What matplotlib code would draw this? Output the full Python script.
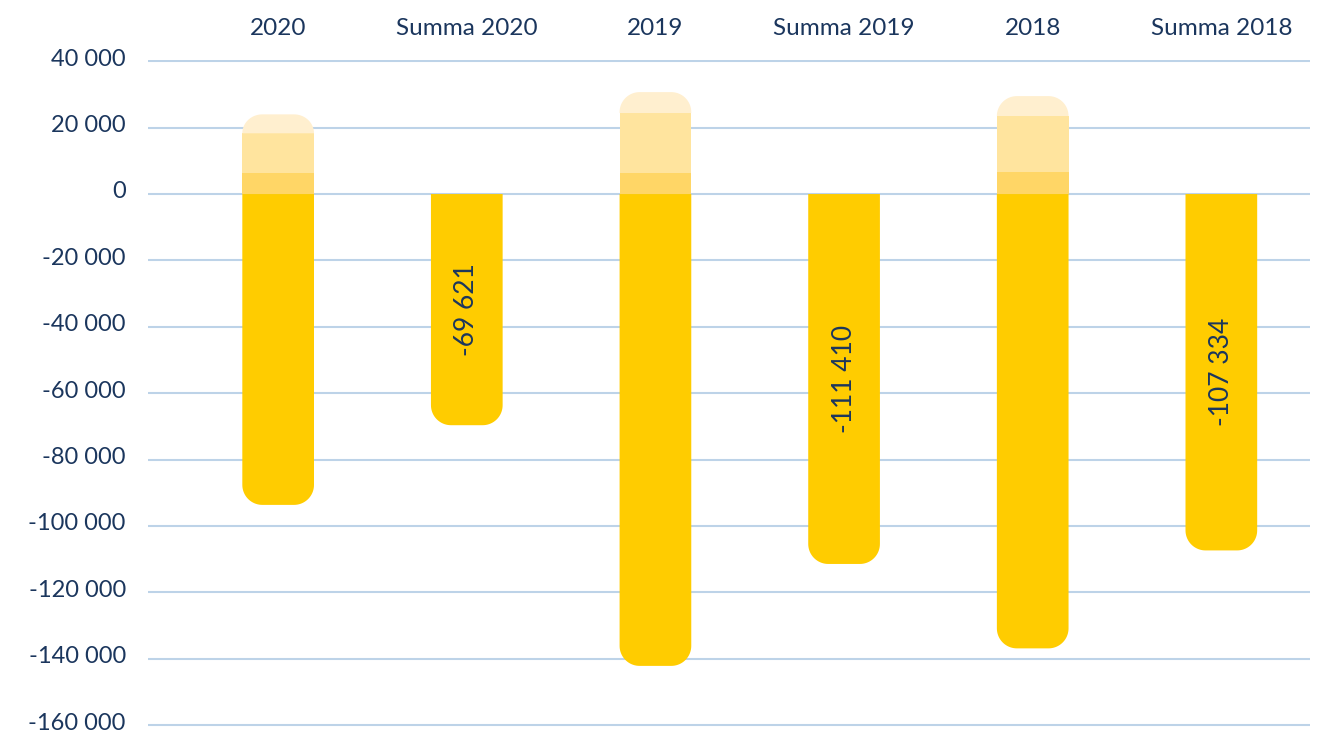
import numpy as np
import matplotlib
matplotlib.use("Agg")
import matplotlib.pyplot as plt
from matplotlib.patches import PathPatch, Rectangle
from matplotlib.path import Path
from matplotlib.transforms import ScaledTranslation

# Data
categories = ["2020", "Summa 2020", "2019", "Summa 2019", "2018", "Summa 2018"]
negatives = [-93621, -69621, -142110, -111410, -136834, -107334]
pos_low = [6400, 0, 6400, 0, 6700, 0]
pos_mid = [11900, 0, 18000, 0, 16800, 0]
pos_top = [5700, 0, 6300, 0, 6000, 0]
summa_labels = {1: "-69 621", 3: "-111 410", 5: "-107 334"}
y_ticks = [40000, 20000, 0, -20000, -40000, -60000, -80000,
           -100000, -120000, -140000, -160000]

# Styles
navy = "#1B365D"
grid_col = "#BDD3E8"
c_neg = "#FFCC00"
c_low = "#FFD666"
c_mid = "#FFE49E"
c_top = "#FFEFCF"
bar_w = 0.38
radius_px = 20

plt.rcParams["font.family"] = ["Lato", "DejaVu Sans"]

fig = plt.figure(figsize=(13.26, 7.31), dpi=100)
ax = fig.add_axes([148 / 1326, 0.001, (1310 - 148) / 1326, 0.9175])
ax.set_xlim(-0.69, 5.47)
ax.set_ylim(-161500, 40500)

# px per data unit, for rounded caps
p0 = ax.transData.transform((0, 0))
p1 = ax.transData.transform((1, 20000))
rx = radius_px / (p1[0] - p0[0])
ry = radius_px * 20000 / (p1[1] - p0[1])


def segment(x, y0, y1, color, rounded=False):
    # y0 = inner edge (flat), y1 = outer edge (rounded if asked)
    lo, hi = min(y0, y1), max(y0, y1)
    if not rounded:
        ax.add_patch(Rectangle((x - bar_w / 2, lo), bar_w, hi - lo,
                               fc=color, ec="none", zorder=2))
        return
    left, right = x - bar_w / 2, x + bar_w / 2
    sgn = 1 if y1 > y0 else -1
    r_y = min(ry, abs(y1 - y0))
    cy = y1 - sgn * r_y
    verts = [(left, y0), (left, cy)]
    for a in np.linspace(np.pi, np.pi / 2, 20):
        verts.append((left + rx + rx * np.cos(a), cy + sgn * r_y * np.sin(a)))
    for a in np.linspace(np.pi / 2, 0, 20):
        verts.append((right - rx + rx * np.cos(a), cy + sgn * r_y * np.sin(a)))
    verts.append((right, y0))
    verts.append((left, y0))
    codes = [Path.MOVETO] + [Path.LINETO] * (len(verts) - 2) + [Path.CLOSEPOLY]
    ax.add_patch(PathPatch(Path(verts, codes), fc=color, ec="none", zorder=2))


for i, cat in enumerate(categories):
    segment(i, 0, negatives[i], c_neg, rounded=True)
    if pos_low[i] > 0:
        b1 = pos_low[i]
        b2 = b1 + pos_mid[i]
        b3 = b2 + pos_top[i]
        segment(i, 0, b1, c_low)
        segment(i, b1, b2, c_mid)
        segment(i, b2, b3, c_top, rounded=True)
    if i in summa_labels:
        ax.text(i, negatives[i] / 2, summa_labels[i], rotation=90,
                ha="center", va="center", color=navy, fontsize=19, zorder=3)

for v in y_ticks:
    ax.axhline(v, color=grid_col, lw=1.5, zorder=1)

ax.set_yticks(y_ticks)
ax.set_yticklabels([f"{v:,}".replace(",", " ") for v in y_ticks])
ax.tick_params(axis="y", length=0, pad=16, labelsize=17, labelcolor=navy)
for lab in ax.get_yticklabels():
    lab.set_transform(lab.get_transform() + ScaledTranslation(0, 3 / 72, fig.dpi_scale_trans))

ax.xaxis.tick_top()
ax.set_xticks(range(len(categories)))
ax.set_xticklabels(categories)
ax.tick_params(axis="x", length=0, pad=15, labelsize=17.5, labelcolor=navy)

for s in ax.spines.values():
    s.set_visible(False)

fig.savefig("out.png", dpi=100)
